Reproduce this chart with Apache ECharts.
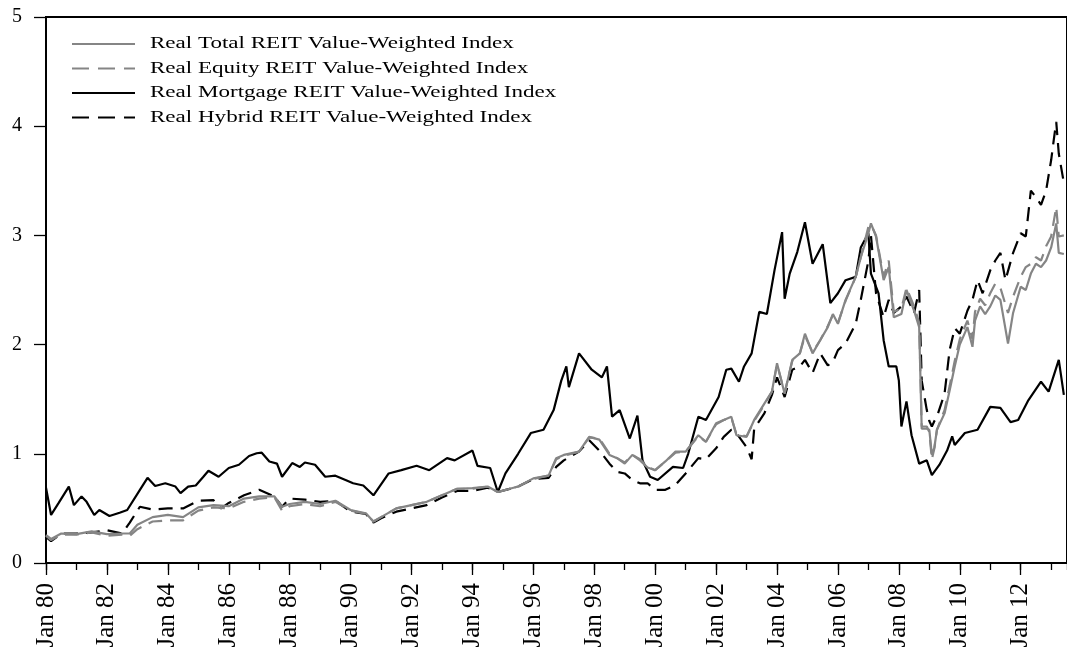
<!DOCTYPE html>
<html>
<head>
<meta charset="utf-8">
<script src="https://cdn.jsdelivr.net/npm/echarts@6/dist/echarts.min.js"></script>
<style>html,body{margin:0;padding:0;background:#fff}#c{width:1067px;height:654px}</style>
</head>
<body>
<div id="c"></div>
<script>
const seriesNames = [
  'Real Total REIT Value-Weighted Index',
  'Real Equity REIT Value-Weighted Index',
  'Real Mortgage REIT Value-Weighted Index',
  'Real Hybrid REIT Value-Weighted Index'
];
const yTickValues = [0, 1, 2, 3, 4, 5];

const totalDates = ['1980-01','1980-03','1980-07','1981-01','1981-07','1982-01','1982-07','1982-10','1983-01','1983-07','1984-01','1984-07','1985-01','1985-07','1986-01','1986-07','1987-01','1987-07','1987-10','1988-01','1988-07','1989-01','1989-07','1990-01','1990-07','1990-10','1991-01','1991-07','1992-01','1992-07','1993-01','1993-07','1994-01','1994-07','1994-11','1995-07','1996-01','1996-07','1996-10','1997-01','1997-07','1997-11','1998-03','1998-07','1998-10','1999-01','1999-04','1999-07','1999-10','2000-01','2000-05','2000-09','2001-01','2001-06','2001-09','2002-01','2002-04','2002-07','2002-09','2003-01','2003-04','2003-08','2003-11','2004-01','2004-04','2004-07','2004-10','2004-12','2005-03','2005-06','2005-09','2005-11','2006-01','2006-04','2006-08','2006-10','2007-01','2007-02','2007-04','2007-07','2007-09','2007-11','2008-02','2008-04','2008-07','2008-09','2008-10','2008-12','2009-01','2009-02','2009-03','2009-04','2009-07','2009-09','2009-11','2010-01','2010-04','2010-06','2010-07','2010-09','2010-11','2011-01','2011-03','2011-05','2011-08','2011-10','2012-01','2012-03','2012-05','2012-07','2012-09','2012-11','2013-01','2013-03','2013-04','2013-06'];
const totalValues = [0.255,0.22,0.27,0.265,0.29,0.265,0.27,0.27,0.35,0.42,0.44,0.42,0.51,0.53,0.52,0.59,0.61,0.61,0.515,0.54,0.56,0.54,0.57,0.485,0.455,0.38,0.42,0.50,0.53,0.56,0.62,0.68,0.685,0.70,0.65,0.70,0.775,0.80,0.96,0.99,1.02,1.155,1.13,0.99,0.96,0.91,0.99,0.94,0.875,0.85,0.93,1.02,1.02,1.17,1.11,1.28,1.31,1.34,1.17,1.155,1.31,1.46,1.57,1.83,1.55,1.86,1.92,2.10,1.92,2.04,2.16,2.28,2.19,2.41,2.62,2.80,3.02,3.11,2.99,2.59,2.71,2.25,2.28,2.50,2.31,2.16,1.23,1.23,1.22,0.99,1.06,1.22,1.37,1.58,1.80,2.00,2.16,1.98,2.22,2.35,2.28,2.35,2.45,2.41,2.01,2.29,2.53,2.50,2.65,2.74,2.71,2.77,2.89,3.11,2.84,2.83];

const equityDates = ['1980-01','1980-03','1980-07','1981-01','1981-07','1982-01','1982-07','1982-10','1983-01','1983-07','1984-01','1984-07','1985-01','1985-07','1986-01','1986-07','1987-01','1987-07','1987-10','1988-01','1988-07','1989-01','1989-07','1990-01','1990-07','1990-10','1991-01','1991-07','1992-01','1992-07','1993-01','1993-07','1994-01','1994-07','1994-11','1995-07','1996-01','1996-07','1996-10','1997-01','1997-07','1997-11','1998-03','1998-07','1998-10','1999-01','1999-04','1999-07','1999-10','2000-01','2000-05','2000-09','2001-01','2001-06','2001-09','2002-01','2002-04','2002-07','2002-09','2003-01','2003-04','2003-08','2003-11','2004-01','2004-04','2004-07','2004-10','2004-12','2005-03','2005-06','2005-09','2005-11','2006-01','2006-04','2006-08','2006-10','2007-01','2007-02','2007-04','2007-07','2007-09','2007-11','2008-02','2008-04','2008-07','2008-09','2008-10','2008-12','2009-01','2009-02','2009-03','2009-04','2009-07','2009-09','2009-11','2010-01','2010-04','2010-06','2010-07','2010-09','2010-11','2011-01','2011-03','2011-05','2011-08','2011-10','2012-01','2012-03','2012-05','2012-07','2012-09','2012-11','2013-01','2013-03','2013-04','2013-06'];
const equityValues = [0.25,0.21,0.26,0.26,0.28,0.25,0.26,0.25,0.31,0.38,0.39,0.39,0.48,0.51,0.50,0.56,0.59,0.60,0.48,0.52,0.54,0.52,0.56,0.48,0.45,0.38,0.42,0.50,0.53,0.56,0.62,0.68,0.68,0.70,0.65,0.70,0.77,0.80,0.95,0.98,1.02,1.15,1.14,1.00,0.96,0.92,0.99,0.95,0.88,0.85,0.93,1.01,1.02,1.16,1.11,1.27,1.31,1.33,1.18,1.16,1.30,1.45,1.57,1.82,1.56,1.85,1.92,2.08,1.93,2.04,2.17,2.27,2.20,2.40,2.62,2.80,3.08,3.10,3.00,2.62,2.77,2.30,2.33,2.52,2.35,2.20,1.25,1.25,1.20,0.95,1.05,1.22,1.40,1.62,1.85,2.05,2.22,2.05,2.30,2.42,2.36,2.47,2.56,2.52,2.29,2.44,2.62,2.71,2.74,2.80,2.77,2.90,2.99,3.26,2.99,3.00];

const mortgageDates = ['1980-01','1980-03','1980-06','1980-10','1980-12','1981-03','1981-05','1981-08','1981-10','1982-02','1982-06','1982-09','1983-02','1983-05','1983-08','1983-12','1984-04','1984-06','1984-09','1984-12','1985-03','1985-05','1985-09','1986-01','1986-05','1986-09','1986-12','1987-02','1987-05','1987-08','1987-10','1988-02','1988-05','1988-07','1988-11','1989-03','1989-07','1989-11','1990-02','1990-06','1990-10','1991-04','1991-09','1992-03','1992-08','1993-03','1993-06','1994-01','1994-03','1994-08','1994-11','1995-02','1995-07','1995-12','1996-05','1996-09','1996-12','1997-02','1997-03','1997-07','1997-12','1998-04','1998-06','1998-08','1998-11','1999-03','1999-06','1999-08','1999-11','2000-02','2000-08','2000-12','2001-02','2001-06','2001-09','2002-02','2002-05','2002-07','2002-10','2002-12','2003-03','2003-06','2003-09','2003-12','2004-03','2004-04','2004-06','2004-09','2004-12','2005-03','2005-07','2005-10','2006-01','2006-04','2006-08','2006-10','2007-01','2007-02','2007-05','2007-07','2007-09','2007-12','2008-01','2008-02','2008-04','2008-06','2008-09','2008-12','2009-02','2009-05','2009-08','2009-10','2009-11','2010-03','2010-08','2011-01','2011-05','2011-09','2011-12','2012-04','2012-09','2012-12','2013-04','2013-06'];
const mortgageValues = [0.69,0.44,0.55,0.70,0.53,0.61,0.56,0.44,0.485,0.43,0.46,0.485,0.67,0.78,0.705,0.73,0.70,0.64,0.70,0.71,0.79,0.845,0.79,0.87,0.90,0.98,1.005,1.01,0.93,0.91,0.79,0.915,0.88,0.92,0.90,0.79,0.80,0.76,0.73,0.71,0.62,0.82,0.85,0.89,0.85,0.96,0.94,1.03,0.89,0.87,0.65,0.82,1.00,1.19,1.22,1.40,1.67,1.80,1.61,1.92,1.77,1.70,1.80,1.34,1.40,1.14,1.35,0.94,0.79,0.76,0.88,0.87,1.00,1.34,1.31,1.52,1.77,1.78,1.66,1.80,1.92,2.30,2.28,2.68,3.03,2.42,2.65,2.85,3.12,2.74,2.92,2.38,2.47,2.59,2.62,2.89,3.02,2.65,2.47,2.04,1.80,1.80,1.67,1.25,1.48,1.17,0.91,0.94,0.805,0.90,1.03,1.16,1.08,1.19,1.22,1.43,1.42,1.29,1.31,1.49,1.66,1.57,1.86,1.54];

const hybridDates = ['1980-01','1980-03','1980-07','1981-01','1981-07','1982-01','1982-07','1982-10','1983-02','1983-07','1984-01','1984-07','1985-01','1985-07','1985-10','1986-01','1986-07','1987-01','1987-07','1987-10','1988-01','1988-07','1989-01','1989-07','1990-01','1990-07','1990-10','1991-01','1991-07','1992-01','1992-07','1993-01','1993-07','1994-01','1994-07','1994-11','1995-07','1996-01','1996-07','1996-10','1997-01','1997-07','1997-11','1998-03','1998-07','1998-10','1999-01','1999-04','1999-07','1999-10','2000-01','2000-05','2000-09','2001-01','2001-06','2001-09','2002-01','2002-04','2002-07','2002-09','2003-01','2003-03','2003-04','2003-08','2003-11','2004-01','2004-04','2004-07','2004-10','2004-12','2005-03','2005-06','2005-09','2005-11','2006-01','2006-04','2006-08','2006-10','2007-01','2007-02','2007-04','2007-07','2007-09','2007-11','2008-02','2008-04','2008-07','2008-09','2008-10','2008-12','2009-01','2009-02','2009-03','2009-04','2009-07','2009-09','2009-11','2010-01','2010-04','2010-06','2010-08','2010-10','2011-01','2011-03','2011-05','2011-07','2011-10','2012-01','2012-03','2012-05','2012-07','2012-09','2012-11','2013-01','2013-02','2013-03','2013-04','2013-06'];
const hybridValues = [0.24,0.20,0.27,0.27,0.28,0.30,0.27,0.37,0.515,0.49,0.50,0.50,0.57,0.575,0.50,0.55,0.62,0.67,0.61,0.515,0.59,0.58,0.56,0.57,0.47,0.45,0.37,0.41,0.47,0.50,0.53,0.60,0.66,0.66,0.69,0.65,0.70,0.77,0.78,0.88,0.94,1.02,1.125,1.03,0.91,0.835,0.82,0.76,0.73,0.73,0.67,0.67,0.715,0.82,0.96,0.95,1.05,1.155,1.22,1.19,1.06,0.95,1.23,1.37,1.54,1.70,1.52,1.77,1.80,1.86,1.74,1.92,1.81,1.84,1.95,2.01,2.19,2.41,2.77,3.00,2.47,2.25,2.41,2.29,2.35,2.44,2.29,2.50,1.67,1.40,1.30,1.25,1.30,1.34,1.55,1.95,2.15,2.10,2.31,2.41,2.59,2.47,2.68,2.77,2.84,2.59,2.84,3.02,2.99,3.41,3.35,3.28,3.41,3.69,3.87,4.04,3.75,3.48];

function toYear(s) { return +s.slice(0, 4) + (+s.slice(5, 7) - 1) / 12; }
function pairs(d, v) { return d.map((s, i) => [toYear(s), v[i]]); }

const GRAY = '#858585', BLACK = '#000000';
const styles = [
  { color: GRAY, dash: 'solid', legendDash: null, z: 4 },
  { color: GRAY, dash: [14, 8], legendDash: [17, 9], z: 3 },
  { color: BLACK, dash: 'solid', legendDash: null, z: 2 },
  { color: BLACK, dash: [14, 8], legendDash: [17, 9], z: 1 }
];
const seriesData = [
  pairs(totalDates, totalValues),
  pairs(equityDates, equityValues),
  pairs(mortgageDates, mortgageValues),
  pairs(hybridDates, hybridValues)
];

const FONT = '"Liberation Serif", "Times New Roman", serif';
const chart = echarts.init(document.getElementById('c'));

const legendGraphics = [];
seriesNames.forEach((name, i) => {
  const y = 44 + i * 24.5;
  legendGraphics.push({
    type: 'line', z: 100,
    shape: { x1: 72, y1: y, x2: 135, y2: y },
    style: { stroke: styles[i].color, lineWidth: 2, lineDash: styles[i].legendDash }
  });
  legendGraphics.push({
    type: 'text', z: 100, x: 150, y: y, scaleX: 1.44,
    style: { text: name, fill: '#000', font: '16px ' + FONT, verticalAlign: 'middle', align: 'left' }
  });
});

const X0 = 1980, X1 = 2013.52;
chart.setOption({
  animation: false,
  backgroundColor: '#fff',
  grid: { left: 46, right: -2, top: 17, bottom: 91, show: true, borderColor: '#000', borderWidth: 2 },
  xAxis: [
    {
      type: 'value', min: X0, max: X1, interval: 2, position: 'bottom',
      axisLine: { show: true, lineStyle: { color: '#000', width: 2 } },
      axisTick: { show: true, length: 12, lineStyle: { color: '#000', width: 1.3 } },
      splitLine: { show: false },
      axisLabel: {
        rotate: 90, margin: 20, color: '#000', fontFamily: FONT, fontSize: 25, showMaxLabel: false,
        formatter: v => 'Jan ' + String(Math.round(v)).slice(2)
      }
    },
    {
      type: 'value', min: X0, max: X1, interval: 1, position: 'bottom',
      axisLine: { show: false },
      axisTick: { show: true, length: 7, lineStyle: { color: '#000', width: 1.3 } },
      splitLine: { show: false },
      axisLabel: { show: false }
    }
  ],
  yAxis: {
    type: 'value', min: yTickValues[0], max: yTickValues[yTickValues.length - 1], interval: 1,
    axisLine: { show: true, lineStyle: { color: '#000', width: 2 } },
    axisTick: { show: true, length: 12, lineStyle: { color: '#000', width: 1.3 } },
    splitLine: { show: false },
    axisLabel: { margin: 24, color: '#000', fontFamily: FONT, fontSize: 20 }
  },
  graphic: legendGraphics,
  series: seriesNames.map((name, i) => ({
    name: name, type: 'line', xAxisIndex: 0, yAxisIndex: 0,
    data: seriesData[i], showSymbol: false, symbol: 'none', z: styles[i].z,
    lineStyle: { color: styles[i].color, width: 2.2, type: styles[i].dash },
    itemStyle: { color: styles[i].color }
  }))
});
</script>
</body>
</html>
